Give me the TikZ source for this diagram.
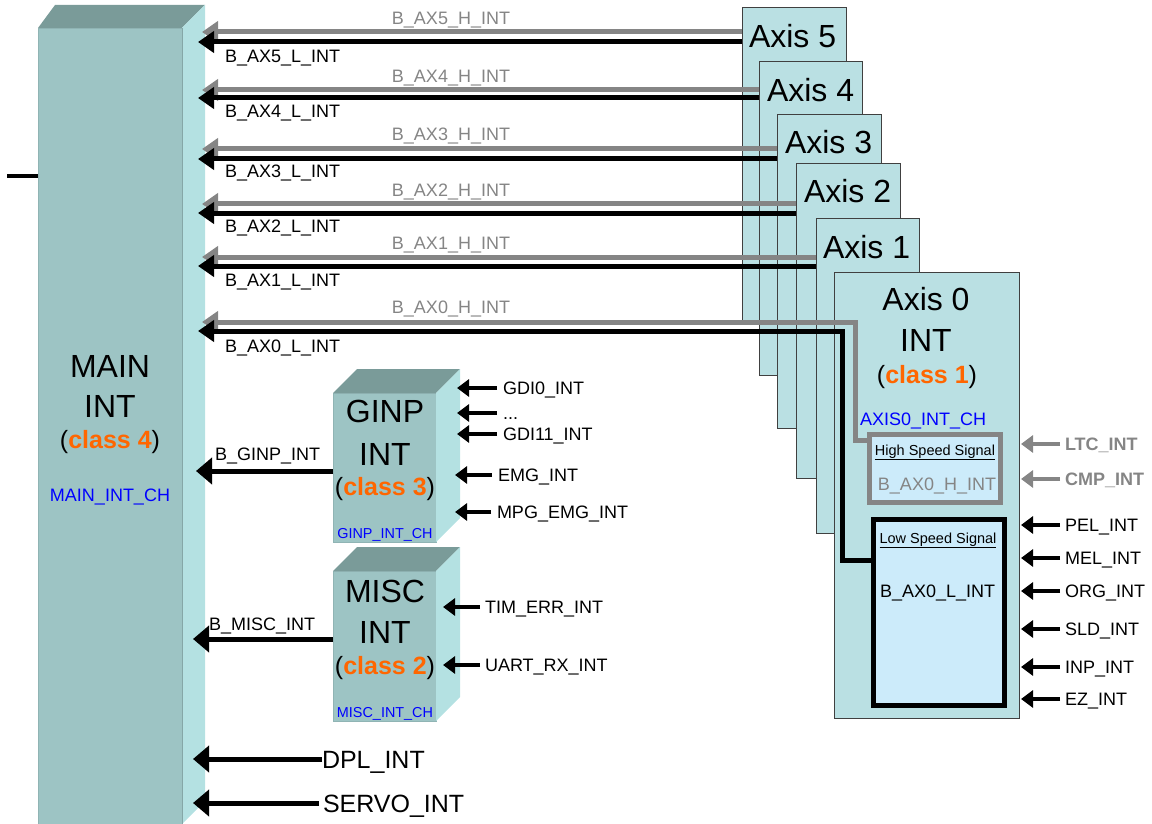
\documentclass[tikz,border=0pt]{standalone}
\usepackage{fontspec}
\setmainfont{Liberation Sans}
\usetikzlibrary{arrows.meta}
\definecolor{cfront}{HTML}{9DC4C4}
\definecolor{ctop}{HTML}{7A9B99}
\definecolor{cside}{HTML}{B4E1E2}
\definecolor{caxis}{HTML}{BAE0E3}
\definecolor{cinner}{HTML}{CCEBFA}
\definecolor{cgray}{HTML}{858585}
\definecolor{corange}{HTML}{FF6600}
\definecolor{cblue}{HTML}{0000FF}
\definecolor{cedge}{HTML}{404040}
\tikzset{
  every node/.style={inner sep=0pt, outer sep=0pt},
  fface/.style={fill=cfront, draw=cfront!92!black, line width=0.6pt},
  axbox/.style={fill=caxis, draw=cedge, line width=1pt, anchor=north west},
  tbig/.style={font=\fontsize{32}{36}\selectfont},
  tcls/.style={font=\fontsize{25}{30}\selectfont},
  tlab/.style={font=\fontsize{18}{21}\selectfont},
  tmid/.style={font=\fontsize{25}{30}\selectfont},
  tsmall/.style={font=\fontsize{14.5}{17}\selectfont},
  tch/.style={font=\fontsize{18}{21}\selectfont, text=cblue},
  tchs/.style={font=\fontsize{14.4}{17}\selectfont, text=cblue},
  garr/.style={draw=cgray, line width=5pt, -{Triangle[length=16pt,width=21pt]}},
  barr/.style={draw=black, line width=5pt, -{Triangle[length=16pt,width=21pt]}},
  bigarr/.style={draw=black, line width=5pt, -{Triangle[length=16pt,width=26pt]}},
  inarr/.style={draw=black, line width=4pt, -{Triangle[length=12pt,width=17pt]}},
  ginarr/.style={draw=cgray, line width=4pt, -{Triangle[length=12pt,width=17pt]}},
}
\newcommand{\cls}[1]{(\textcolor{corange}{\bfseries class #1})}
\newcommand{\mydots}{...}
\begin{document}
\begin{tikzpicture}[x=1pt,y=-1pt]
\useasboundingbox (0,0) rectangle (1152,824);

% ---------- MAIN cube ----------
\node[fface, minimum width=144pt, minimum height=796pt, anchor=north west] (main) at (38,28) {};
\fill[ctop] (main.north west) -- ++(17,-23) -- ++(150,0) -- (main.north east) -- cycle;
\fill[cside] (main.north east) -- ++(23,-23) -- ++(0,796) -- (main.south east) -- cycle;
\draw[cfront!85!black, line width=0.6pt] (main.north east) -- (main.south east);
\node[tbig, anchor=base] (mainT1) at (110,377) {MAIN};
\node[tbig, anchor=base] (mainT2) at (110,417) {INT};
\node[tcls, anchor=base] (mainT3) at (110,448) {\cls{4}};
\node[tch, anchor=base] (mainCH) at (110,501) {MAIN\_INT\_CH};
\coordinate (stubL) at (7,176);
\draw[line width=3.5pt] (stubL) -- (main.west |- stubL);

% ---------- GINP cube ----------
\node[fface, minimum width=103pt, minimum height=149pt, anchor=north west] (ginp) at (333,393) {};
\fill[ctop] (ginp.north west) -- ++(24,-24) -- ++(103,0) -- (ginp.north east) -- cycle;
\fill[cside] (ginp.north east) -- ++(24,-24) -- ++(0,149) -- (ginp.south east) -- cycle;
\node[tbig, anchor=base] (ginpT1) at (385,422) {GINP};
\node[tbig, anchor=base] (ginpT2) at (385,465) {INT};
\node[tcls, anchor=base] (ginpT3) at (385,495) {\cls{3}};
\node[tchs, anchor=base] (ginpCH) at (385,538) {GINP\_INT\_CH};

% ---------- MISC cube ----------
\node[fface, minimum width=103pt, minimum height=150pt, anchor=north west] (misc) at (333,571) {};
\fill[ctop] (misc.north west) -- ++(24,-24) -- ++(103,0) -- (misc.north east) -- cycle;
\fill[cside] (misc.north east) -- ++(24,-24) -- ++(0,150) -- (misc.south east) -- cycle;
\node[tbig, anchor=base] (miscT1) at (385,602) {MISC};
\node[tbig, anchor=base] (miscT2) at (385,643) {INT};
\node[tcls, anchor=base] (miscT3) at (385,674) {\cls{2}};
\node[tchs, anchor=base] (miscCH) at (385,717) {MISC\_INT\_CH};

% ---------- Axis boxes ----------
\node[axbox, minimum width=104pt, minimum height=313pt] (ax5) at (742,8) {};
\node[axbox, minimum width=103pt, minimum height=313pt] (ax4) at (759,62) {};
\node[axbox, minimum width=104pt, minimum height=313pt] (ax3) at (777,115) {};
\node[axbox, minimum width=104pt, minimum height=314pt] (ax2) at (796,164) {};
\node[axbox, minimum width=103pt, minimum height=315pt] (ax1) at (816,218) {};
\node[axbox, minimum width=185pt, minimum height=446pt] (ax0) at (834,272) {};

\node[tbig, anchor=base west] (ax5T) at (749,48) {Axis 5};
\node[tbig, anchor=base west] (ax4T) at (767,102) {Axis 4};
\node[tbig, anchor=base west] (ax3T) at (785,154) {Axis 3};
\node[tbig, anchor=base west] (ax2T) at (804,203) {Axis 2};
\node[tbig, anchor=base west] (ax1T) at (823,258) {Axis 1};
\node[tbig, anchor=base] (ax0T1) at (926,310) {Axis 0};
\node[tbig, anchor=base] (ax0T2) at (926,351) {INT};
\node[tcls, anchor=base] (ax0T3) at (927,383) {\cls{1}};
\node[tch, anchor=base west] (ax0CH) at (860,425) {AXIS0\_INT\_CH};

% inner boxes
\node[draw=cgray, fill=cinner, line width=5pt, minimum width=131pt, minimum height=68pt, anchor=north west] (hs) at (869.5,434.5) {};
\node[draw=black, fill=cinner, line width=5pt, minimum width=131pt, minimum height=186pt, anchor=north west] (ls) at (873.5,519.5) {};
\node[tsmall, anchor=base] (hsT) at (935,455) {\underline{High Speed Signal}};
\node[tlab, anchor=base, text=cgray] (hsT2) at (937,490) {B\_AX0\_H\_INT};
\node[tsmall, anchor=base] (lsT) at (938,543) {\underline{Low Speed Signal}};
\node[tlab, anchor=base west] (lsT2) at (880,597) {B\_AX0\_L\_INT};

% ---------- AX lines ----------
\coordinate (h5) at (202,32);  \coordinate (l5) at (198,42);
\coordinate (h4) at (202,90);  \coordinate (l4) at (198,98);
\coordinate (h3) at (202,149); \coordinate (l3) at (198,159);
\coordinate (h2) at (202,204); \coordinate (l2) at (198,213);
\coordinate (h1) at (202,257); \coordinate (l1) at (198,266);
\coordinate (h0) at (202,322); \coordinate (l0) at (198,331);
\foreach \i in {5,4,3,2,1}{
  \draw[garr] (ax\i.west |- h\i) -- (h\i);
  \draw[barr] (ax\i.west |- l\i) -- (l\i);
}
\coordinate (g0a) at (855,440);
\coordinate (b0a) at (842,560);
\draw[garr] (hs.west |- g0a) -- (g0a) -- (g0a |- h0) -- (h0);
\draw[barr] (ls.west |- b0a) -- (b0a) -- (b0a |- l0) -- (l0);

\foreach \i/\yh/\yl in {5/24.5/63, 4/82.5/117.5, 3/140.5/177.5, 2/196.5/232.5, 1/249.5/286.5, 0/313.5/352.5}{
  \node[tlab, anchor=base, text=cgray] (lh\i) at (451,\yh) {B\_AX\i\_H\_INT};
  \node[tlab, anchor=base west] (ll\i) at (225,\yl) {B\_AX\i\_L\_INT};
}

% ---------- Axis 0 inputs ----------
\foreach \n/\y/\t in {ltc/444/LTC\_INT, cmp/479/CMP\_INT}{
  \coordinate (\n tip) at (1021,\y);
  \node[tlab, anchor=base west, text=cgray, font=\fontsize{18}{21}\selectfont\bfseries] (\n) at (1065,\y+6.5) {\t};
  \draw[ginarr] ([xshift=-5pt]\n.west |- \n tip) -- (\n tip);
}
\foreach \n/\y/\t in {pel/525/PEL\_INT, mel/558/MEL\_INT, org/591/ORG\_INT, sld/629/SLD\_INT, inp/667/INP\_INT, ez/699/EZ\_INT}{
  \coordinate (\n tip) at (1021,\y);
  \node[tlab, anchor=base west] (\n) at (1065,\y+6.5) {\t};
  \draw[inarr] ([xshift=-5pt]\n.west |- \n tip) -- (\n tip);
}

% ---------- GINP inputs ----------
\foreach \n/\y/\tp/\lx/\t in {gdi0/388/457/503/{GDI0\_INT}, gdd/413/457/503/{\mydots}, gdi11/434/457/503/{GDI11\_INT}, emg/475/455/498/{EMG\_INT}, mpg/512/455/497/{MPG\_EMG\_INT}}{
  \coordinate (\n tip) at (\tp,\y);
  \node[tlab, anchor=base west] (\n) at (\lx,\y+6.5) {\t};
  \draw[inarr] ([xshift=-6pt]\n.west |- \n tip) -- (\n tip);
}
% ---------- MISC inputs ----------
\foreach \n/\y/\t in {tim/607/TIM\_ERR\_INT, uart/665/UART\_RX\_INT}{
  \coordinate (\n tip) at (443,\y);
  \node[tlab, anchor=base west] (\n) at (485,\y+6.5) {\t};
  \draw[inarr] ([xshift=-5pt]\n.west |- \n tip) -- (\n tip);
}

% ---------- outputs to MAIN ----------
\coordinate (bginp) at (196,471);
\draw[bigarr] (ginp.west |- bginp) -- (bginp);
\node[tlab, anchor=base west] (bginpT) at (215,460) {B\_GINP\_INT};
\coordinate (bmisc) at (193,639);
\draw[bigarr] (misc.west |- bmisc) -- (bmisc);
\node[tlab, anchor=base west] (bmiscT) at (209,630) {B\_MISC\_INT};

\node[tmid, anchor=base west] (dpl) at (322,768) {DPL\_INT};
\coordinate (dpltip) at (193,759);
\draw[bigarr] (dpl.west |- dpltip) -- (dpltip);
\node[tmid, anchor=base west] (servo) at (323,812) {SERVO\_INT};
\coordinate (servotip) at (193,803);
\draw[bigarr] ([xshift=-4pt]servo.west |- servotip) -- (servotip);
\end{tikzpicture}
\end{document}
